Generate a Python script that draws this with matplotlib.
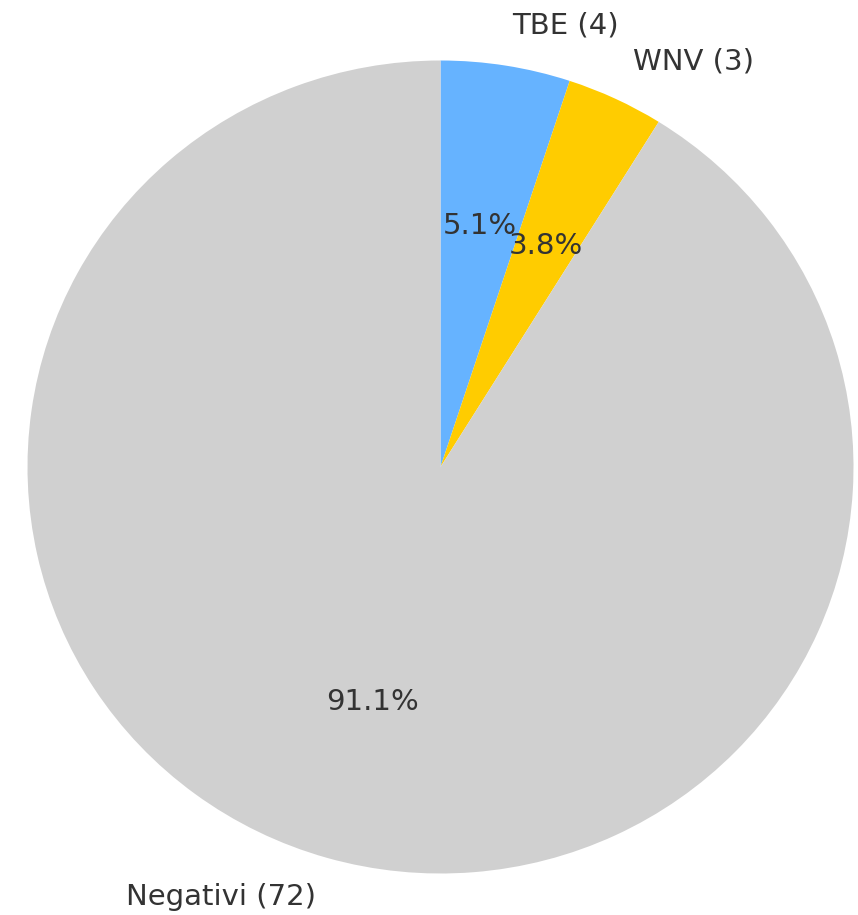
import matplotlib.pyplot as plt

labels = ["TBE (4)", "WNV (3)", "Negativi (72)"]
counts = [4, 3, 72]
colors = ["#66b3ff", "#ffcc00", "#d0d0d0"]

W, H = 858, 915
CX, CY = 440.5, 467.0
RX, RY = 413.0, 406.5

fig = plt.figure(figsize=(W / 100, H / 100), dpi=100)
ax = fig.add_axes([0, 0, 1, 1])

wedges, texts, autotexts = ax.pie(
    counts,
    labels=labels,
    colors=colors,
    autopct="%1.1f%%",
    startangle=90,
    counterclock=False,
    textprops={"fontsize": 21, "color": "#333333"},
)

ax.set_aspect("auto")
ax.set_xlim(-CX / RX, (W - CX) / RX)
ax.set_ylim(-(H - CY) / RY, CY / RY)
ax.axis("off")

fig.savefig("out.png", dpi=100)
